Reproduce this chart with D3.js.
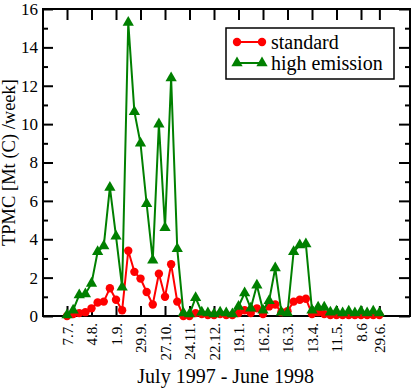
<!DOCTYPE html>
<html>
<head>
<meta charset="utf-8">
<script src="https://d3js.org/d3.v7.min.js"></script>
<style>
  body { margin: 0; background: #fff; }
  text { font-family: "Liberation Serif", "DejaVu Serif", serif; }
</style>
</head>
<body>
<div id="chart"></div>
<script>
// weekly values, week 0 = 7.7.1997
const standard = [0, 0.1, 0.15, 0.2, 0.4, 0.7, 0.75, 1.45, 0.85, 0.3,
  3.4, 2.3, 1.95, 1.25, 0.6, 2.2, 1.0, 2.7, 0.75, 0.0,
  0.0, 0.15, 0.1, 0.05, 0.05, 0.1, 0.05, 0.05, 0.15, 0.3,
  0.15, 0.4, 0.1, 0.5, 0.6, 0.2, 0.25, 0.75, 0.85, 0.9,
  0.1, 0.2, 0.1, 0.05, 0.05, 0.05, 0.05, 0.05, 0.05, 0.05,
  0.05, 0.05];
const highEmission = [0.05, 0.3, 1.1, 1.15, 1.7, 3.35, 3.65, 6.7, 4.15, 1.5,
  15.3, 10.65, 9.0, 5.85, 2.9, 10.0, 4.6, 12.4, 3.5, 0.15,
  0.1, 0.95, 0.2, 0.15, 0.1, 0.2, 0.15, 0.1, 0.5, 1.2,
  0.4, 1.6, 0.3, 0.8, 2.5, 0.2, 0.15, 3.35, 3.7, 3.75,
  0.3, 0.45, 0.45, 0.2, 0.25, 0.15, 0.25, 0.15, 0.25, 0.15,
  0.25, 0.15];
const tickWeeks = [0, 4, 8, 12, 16, 20, 24, 28, 32, 36, 40, 44, 48, 51];
const tickLabels = ["7.7.", "4.8.", "1.9.", "29.9.", "27.10.", "24.11.", "22.12.",
  "19.1.", "16.2.", "16.3.", "13.4.", "11.5.", "8.6", "29.6."];
const yMajor = [0, 2, 4, 6, 8, 10, 12, 14, 16];
const yMinor = [1, 3, 5, 7, 9, 11, 13, 15];

const margin = {top: 9, right: 6, bottom: 74, left: 43},
      width = 416 - margin.left - margin.right,
      height = 390 - margin.top - margin.bottom;

const svg = d3.select("#chart")
              .append("svg")
              .attr("width", width + margin.left + margin.right)
              .attr("height", height + margin.top + margin.bottom)
              .append("g")
              .attr("transform", `translate(${margin.left},${margin.top})`);

const x = d3.scaleLinear().domain([-3.92, 56]).range([0, width]);
const y = d3.scaleLinear().domain([0, 16]).range([height, 0]);

// axes (ticks point inward)
const xb = svg.append("g")
   .attr("transform", `translate(0,${height})`)
   .call(d3.axisBottom(x).tickValues(tickWeeks).tickSize(-10)
           .tickFormat((d, i) => tickLabels[i]).tickSizeOuter(0));
xb.selectAll("text")
  .attr("transform", "rotate(-90)")
  .attr("x", -7).attr("y", 0).attr("dy", "0.35em")
  .style("text-anchor", "end")
  .style("font-size", "15px");

svg.append("g")
   .call(d3.axisTop(x).tickValues(tickWeeks).tickSize(-11).tickFormat("").tickSizeOuter(0));

svg.append("g")
   .call(d3.axisLeft(y).tickValues(yMajor).tickSize(-10).tickPadding(5).tickSizeOuter(0))
   .selectAll("text").style("font-size", "17px");
svg.append("g")
   .call(d3.axisLeft(y).tickValues(yMinor).tickSize(-5).tickFormat("").tickSizeOuter(0));

svg.append("g")
   .attr("transform", `translate(${width},0)`)
   .call(d3.axisRight(y).tickValues(yMajor).tickSize(-11).tickFormat("").tickSizeOuter(0));
svg.append("g")
   .attr("transform", `translate(${width},0)`)
   .call(d3.axisRight(y).tickValues(yMinor).tickSize(-5).tickFormat("").tickSizeOuter(0));

svg.selectAll(".domain").remove();
svg.selectAll(".tick line").attr("stroke", "#000").attr("stroke-width", 2);
svg.selectAll(".tick text").attr("fill", "#000");

svg.append("rect")
   .attr("width", width).attr("height", height)
   .attr("fill", "none").attr("stroke", "#000").attr("stroke-width", 2);

// series
const line = d3.line().x((d, i) => x(i)).y(d => y(d));
const tri = d3.symbol().type(d3.symbolTriangle).size(55);

svg.append("path").datum(standard)
   .attr("d", line).attr("fill", "none").attr("stroke", "#ff0000").attr("stroke-width", 2);
svg.selectAll(".dot").data(standard).enter().append("circle")
   .attr("cx", (d, i) => x(i)).attr("cy", d => y(d)).attr("r", 4.2)
   .attr("fill", "#ff0000");

svg.append("path").datum(highEmission)
   .attr("d", line).attr("fill", "none").attr("stroke", "#008000").attr("stroke-width", 2);
svg.selectAll(".tri").data(highEmission).enter().append("path")
   .attr("d", tri)
   .attr("transform", (d, i) => `translate(${x(i)},${y(d)})`)
   .attr("fill", "#008000");

// legend
const lg = svg.append("g").attr("transform", "translate(183,19)");
lg.append("rect").attr("width", 168).attr("height", 51)
  .attr("fill", "#fff").attr("stroke", "#000").attr("stroke-width", 1.5);
const items = [{name: "standard", color: "#ff0000", sym: "c"},
               {name: "high emission", color: "#008000", sym: "t"}];
items.forEach((it, k) => {
  const cy = 14 + k * 21;
  lg.append("line").attr("x1", 11).attr("x2", 36).attr("y1", cy).attr("y2", cy)
    .attr("stroke", it.color).attr("stroke-width", 2);
  [11, 36].forEach(px => {
    if (it.sym === "c") {
      lg.append("circle").attr("cx", px).attr("cy", cy).attr("r", 4.2).attr("fill", it.color);
    } else {
      lg.append("path").attr("d", tri).attr("transform", `translate(${px},${cy})`).attr("fill", it.color);
    }
  });
  lg.append("text").attr("x", 45).attr("y", cy).attr("dy", "0.33em")
    .style("font-size", "20px").text(it.name);
});

// axis titles
svg.append("text")
   .attr("transform", `translate(-28,${height / 2}) rotate(-90)`)
   .attr("text-anchor", "middle").style("font-size", "18.5px")
   .text("TPMC [Mt (C) /week]");
svg.append("text")
   .attr("x", x(25.9)).attr("y", height + 67)
   .attr("text-anchor", "middle").style("font-size", "20px")
   .text("July 1997 - June 1998");
</script>
</body>
</html>
